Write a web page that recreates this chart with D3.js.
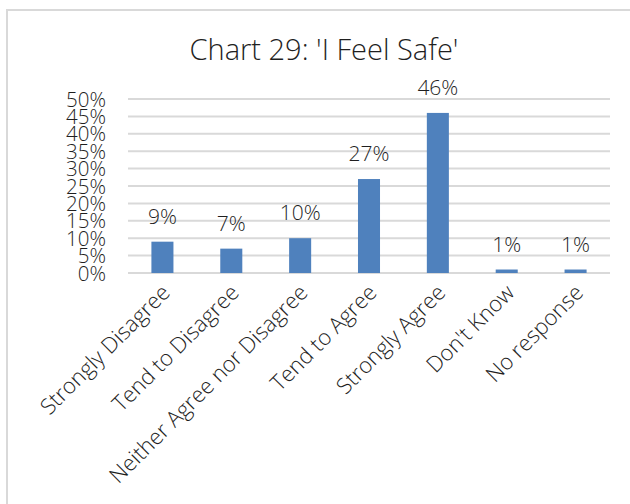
<!DOCTYPE html>
<html>
<head>
<meta charset="utf-8">
<script src="https://cdn.jsdelivr.net/npm/d3@7"></script>
<style>
  body { margin: 0; background: #fff; }
  svg { display: block; }
  text { font-family: "Open Sans", "Noto Sans", sans-serif; font-weight: 300; fill: #1f1f1f; }
</style>
</head>
<body>
<svg id="chart" width="630" height="504"></svg>
<script>
var categories = ["Strongly Disagree", "Tend to Disagree", "Neither Agree nor Disagree",
  "Tend to Agree", "Strongly Agree", "Don't Know", "No response"];
var values = [9, 7, 10, 27, 46, 1, 1];
var yTicks = [0, 5, 10, 15, 20, 25, 30, 35, 40, 45, 50];
var title = "Chart 29: 'I Feel Safe'";

var svg = d3.select("#chart");

var margin = {top: 99, right: 20, bottom: 231, left: 128};
var width = 630 - margin.left - margin.right;
var height = 504 - margin.top - margin.bottom;

// chart area border
svg.append("rect")
  .attr("x", 7).attr("y", 10)
  .attr("width", 660).attr("height", 520)
  .attr("fill", "none")
  .attr("stroke", "#d9d9d9")
  .attr("stroke-width", 2);

svg.append("text")
  .attr("x", 324).attr("y", 60)
  .attr("text-anchor", "middle")
  .style("font-size", "29px")
  .text(title);

var x = d3.scaleBand().domain(categories).range([0, width]).paddingInner(0.68).paddingOuter(0.34);
var y = d3.scaleLinear().domain([0, 50]).range([height, 0]);

var g = svg.append("g")
  .attr("transform", "translate(" + margin.left + "," + margin.top + ")");

// gridlines
g.selectAll(".grid")
  .data(yTicks)
  .enter().append("line")
  .attr("class", "grid")
  .attr("x1", 0).attr("x2", width)
  .attr("y1", function(d) { return y(d); })
  .attr("y2", function(d) { return y(d); })
  .attr("stroke", "#d9d9d9")
  .attr("stroke-width", 2);

var yAxis = g.append("g")
  .call(d3.axisLeft(y).tickValues(yTicks).tickSize(0).tickPadding(22)
    .tickFormat(function(d) { return d + "%"; }));
yAxis.select(".domain").remove();
yAxis.selectAll("text")
  .style("font-size", "20.5px")
  .attr("font-family", null)
  .attr("fill", null)
  .attr("dy", "0.35em");

g.selectAll(".bar")
  .data(values)
  .enter().append("rect")
  .attr("class", "bar")
  .attr("x", function(d, i) { return x(categories[i]); })
  .attr("width", x.bandwidth())
  .attr("y", function(d) { return y(d); })
  .attr("height", function(d) { return height - y(d); })
  .attr("fill", "#4f81bd");

g.selectAll(".label")
  .data(values)
  .enter().append("text")
  .attr("class", "label")
  .attr("x", function(d, i) { return x(categories[i]) + x.bandwidth() / 2; })
  .attr("y", function(d) { return y(d) - 18; })
  .attr("text-anchor", "middle")
  .style("font-size", "21px")
  .text(function(d) { return d + "%"; });

var xAxis = g.append("g")
  .attr("transform", "translate(0," + height + ")")
  .call(d3.axisBottom(x).tickSize(0).tickPadding(0));
xAxis.select(".domain").remove();
xAxis.selectAll("text")
  .style("font-size", "22px")
  .attr("font-family", null)
  .attr("fill", null)
  .attr("text-anchor", "end")
  .attr("dy", null)
  .attr("y", 0)
  .attr("transform", "translate(9,21) rotate(-45)");
</script>
</body>
</html>
